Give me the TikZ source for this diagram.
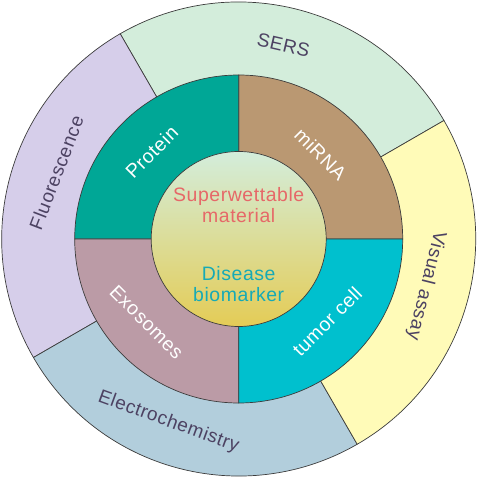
\documentclass[tikz,border=0pt]{standalone}
\usepackage{fontspec}
\setmainfont{Liberation Sans}[LetterSpace=3]

\definecolor{sersc}{RGB}{211,237,219}
\definecolor{fluoc}{RGB}{214,206,234}
\definecolor{elecc}{RGB}{178,206,220}
\definecolor{visc}{RGB}{255,251,184}
\definecolor{protc}{RGB}{0,167,150}
\definecolor{mirc}{RGB}{186,152,114}
\definecolor{exoc}{RGB}{187,155,166}
\definecolor{tumc}{RGB}{0,192,206}
\definecolor{labc}{RGB}{76,66,98}
\definecolor{matc}{RGB}{230,104,104}
\definecolor{bioc}{RGB}{22,170,182}
\definecolor{edgec}{RGB}{60,60,60}

\tikzset{
  outlbl/.style={text=labc, font=\fontsize{19}{20}\selectfont},
  midlbl/.style={text=white, font=\fontsize{19.5}{20}\selectfont},
  corelbl/.style={align=center, font=\fontsize{19.5}{20.5}\selectfont},
  part/.style={draw=edgec, line width=0.7bp}
}

\begin{document}
\begin{tikzpicture}[x=1bp, y=1bp]
\useasboundingbox (-238.7,-239) rectangle (238.3,239);

% outer ring: detection methods
\filldraw[part, fill=sersc] (0,0) -- (30:237) arc (30:120:237) -- cycle;
\filldraw[part, fill=fluoc] (0,0) -- (120:237) arc (120:210:237) -- cycle;
\filldraw[part, fill=elecc] (0,0) -- (210:237) arc (210:300:237) -- cycle;
\filldraw[part, fill=visc] (0,0) -- (300:237) arc (300:390:237) -- cycle;

% middle ring: biomarkers
\filldraw[part, fill=mirc] (0,0) -- (0:164) arc (0:90:164) -- cycle;
\filldraw[part, fill=protc] (0,0) -- (90:164) arc (90:180:164) -- cycle;
\filldraw[part, fill=exoc] (0,0) -- (180:164) arc (180:270:164) -- cycle;
\filldraw[part, fill=tumc] (0,0) -- (270:164) arc (270:360:164) -- cycle;

% core
\shade[top color=sersc, middle color={rgb,255:red,228;green,234;blue,186}, bottom color={rgb,255:red,228;green,204;blue,86}] (0,0) circle (87.5);
\draw[part] (0,0) circle (87.5);

\node[corelbl, text=matc] (mat) at (0,34) {Superwettable\\material};
\node[corelbl, text=bioc] (bio) at (0,-45) {Disease\\biomarker};

\node[midlbl, rotate=45] (protein) at (135:123) {Protein};
\node[midlbl, rotate=-45] (mirna) at (46:118) {miRNA};
\node[midlbl, rotate=-45] (exo) at (222:124) {Exosomes};
\node[midlbl, rotate=45] (tumor) at (-43:121) {tumor cell};

\node[outlbl, rotate=-13] (sers) at (77:199) {SERS};
\node[outlbl, rotate=69] (fluor) at (160:194) {Fluorescence};
\node[outlbl, rotate=-20] (electro) at (249:196) {Electrochemistry};
\node[outlbl, rotate=-104] (visual) at (-14:193) {Visual assay};

\end{tikzpicture}
\end{document}
